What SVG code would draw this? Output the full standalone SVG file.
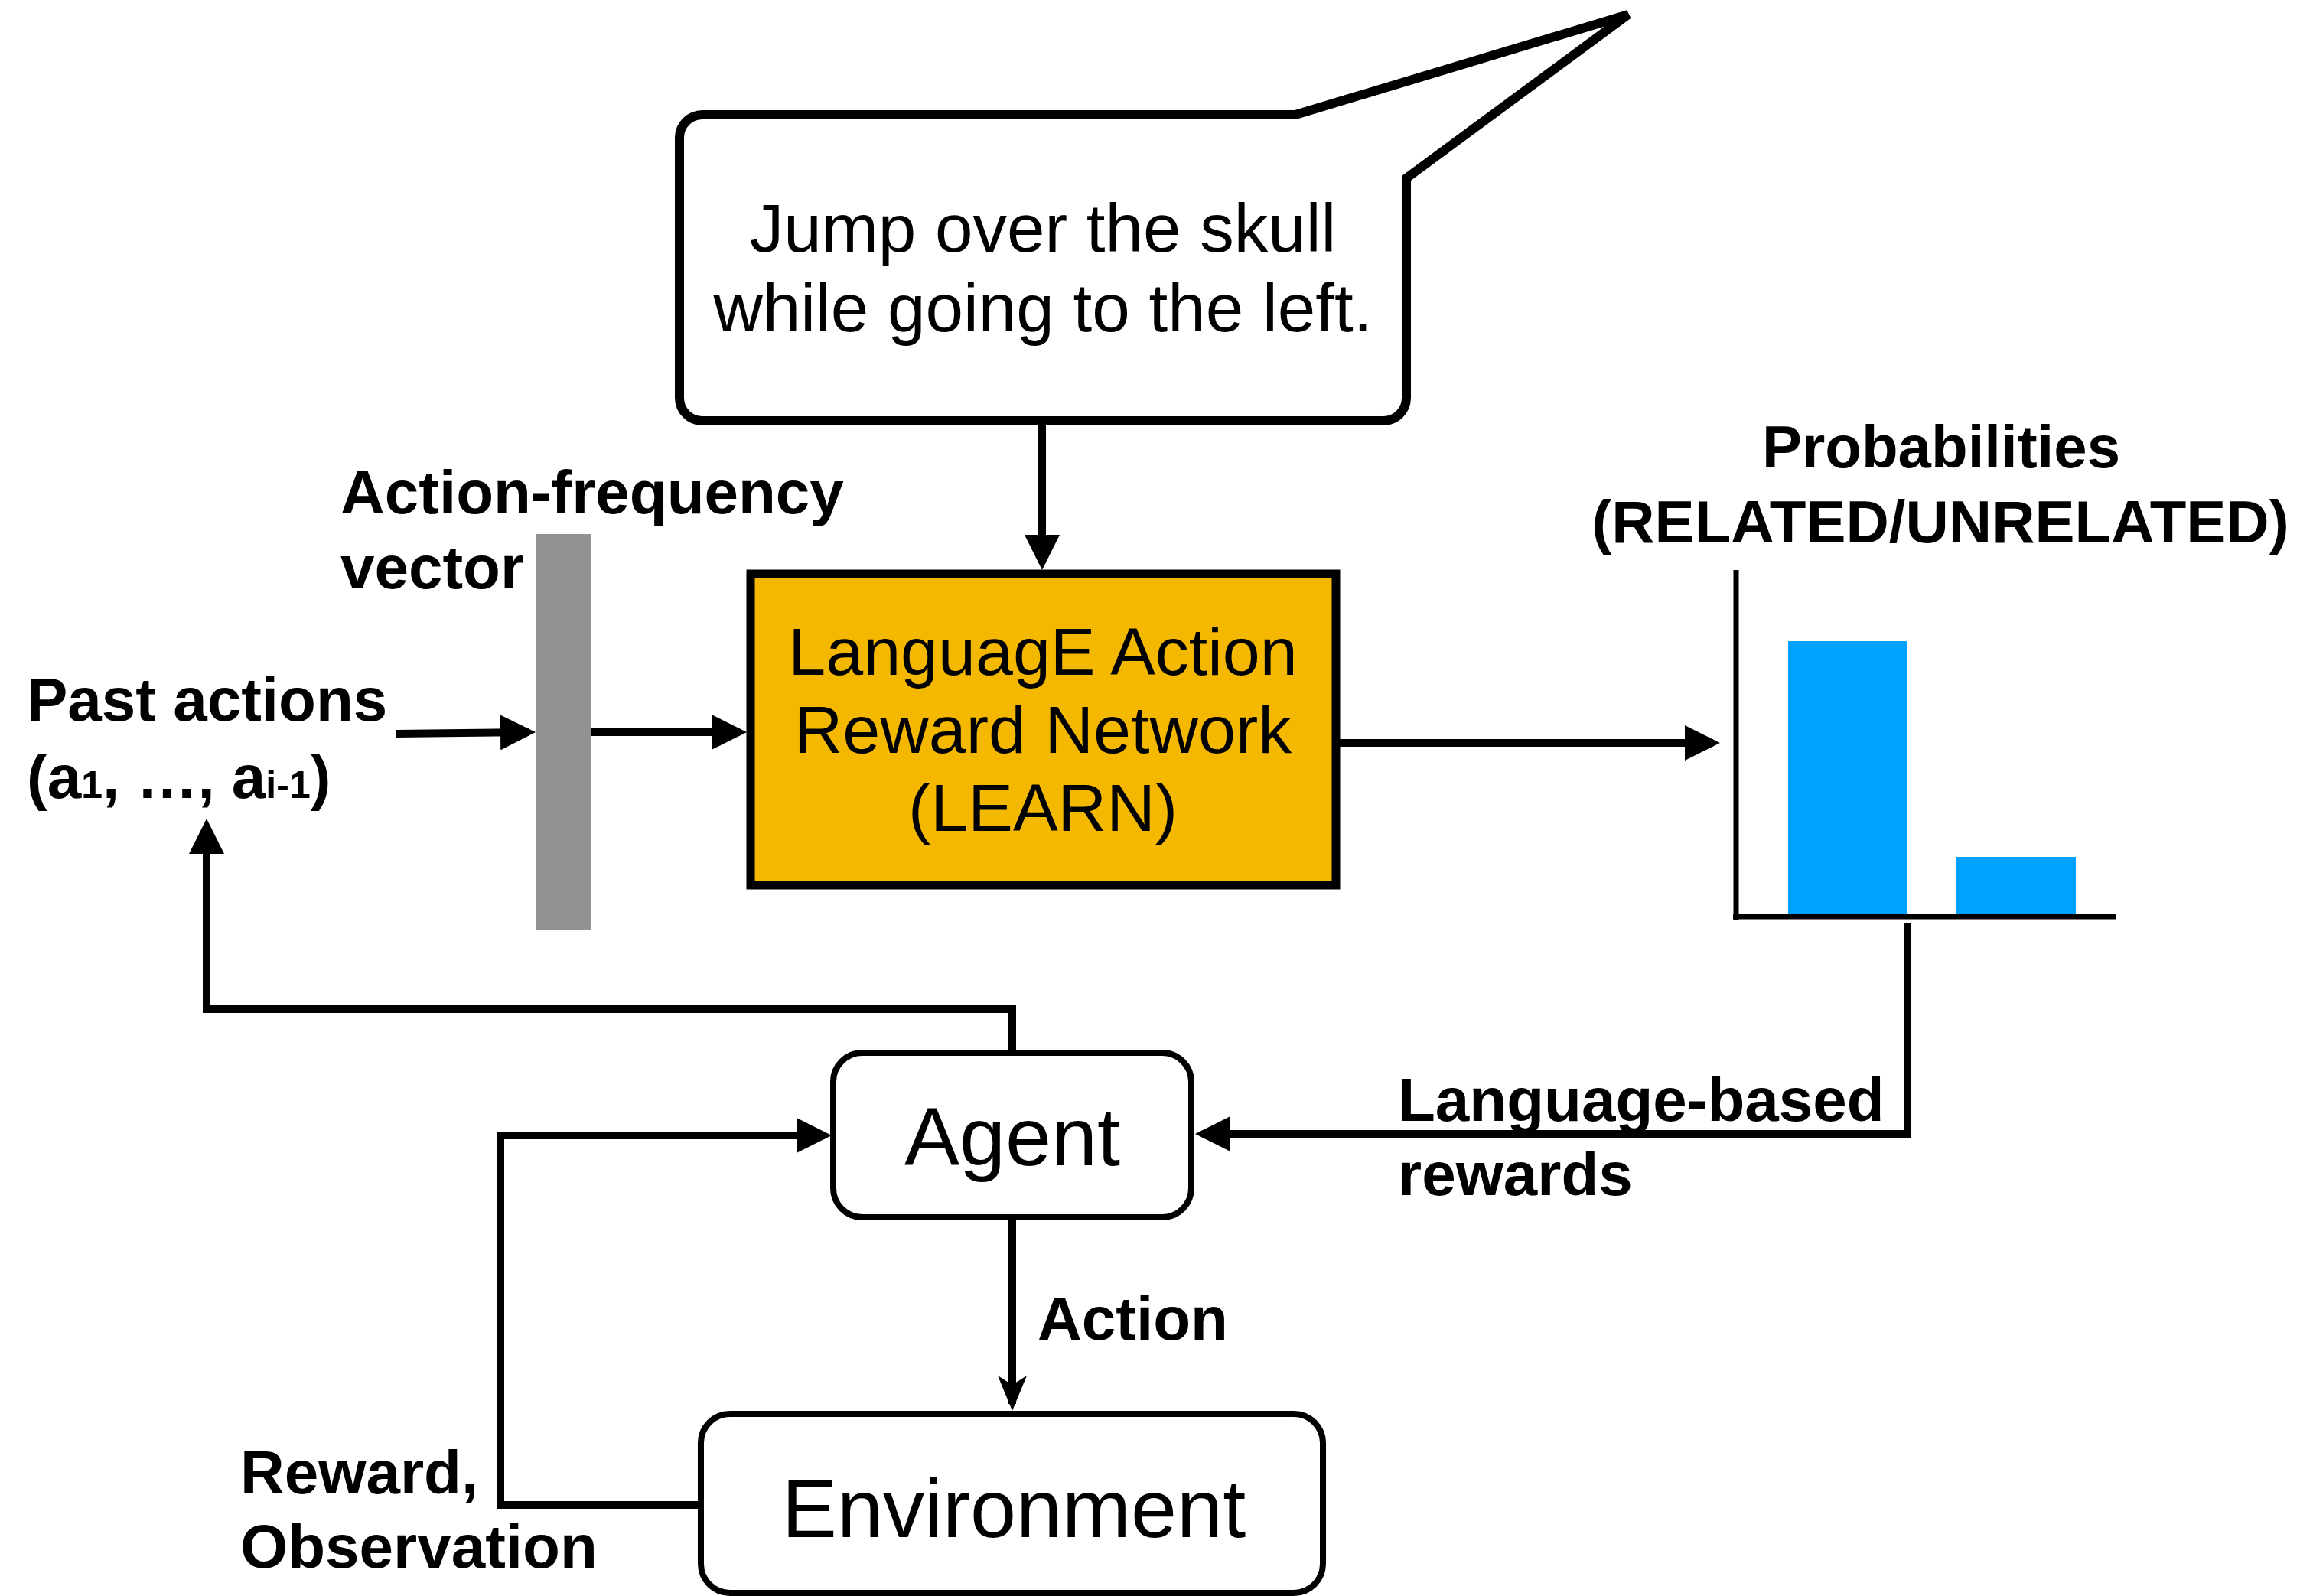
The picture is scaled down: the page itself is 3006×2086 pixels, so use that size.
<svg xmlns="http://www.w3.org/2000/svg" width="3006" height="2086" viewBox="0 0 3006 2086">
<style>
.lbl{font-family:"Liberation Sans",Arial,sans-serif;font-weight:bold;font-size:80px;fill:#000}
.lbl78{font-size:78px}
.txt{font-family:"Liberation Sans",Arial,sans-serif;fill:#000}
.conn{fill:none;stroke:#000;stroke-width:10;stroke-linejoin:miter}
.box{fill:#fff;stroke:#000;stroke-width:8}
</style>
<defs>
<marker id="ah" markerUnits="userSpaceOnUse" markerWidth="46" markerHeight="46" viewBox="0 0 46 46" refX="37" refY="23" orient="auto"><path d="M0,0 L46,23 L0,46 Z" fill="#000"/></marker>
<marker id="ahn" markerUnits="userSpaceOnUse" markerWidth="46" markerHeight="38" viewBox="0 0 46 38" refX="37" refY="19" orient="auto"><path d="M0,0 L46,19 L0,38 L12,19 Z" fill="#000"/></marker>
</defs>
<rect width="3006" height="2086" fill="#fff"/>

<g id="connectors">
<path class="conn" d="M1362,552 V736" marker-end="url(#ah)"/>
<path class="conn" d="M518,959 L691,957" marker-end="url(#ah)"/>
<path class="conn" d="M773,957 H967" marker-end="url(#ah)"/>
<path class="conn" d="M1751,971 H2239" marker-end="url(#ah)"/>
<path class="conn" d="M2493,1206 V1482 H1571" marker-end="url(#ah)"/>
<path class="conn" d="M1323,1376 V1319 H270 V1079" marker-end="url(#ah)"/>
<path class="conn" d="M1323,1593 V1835" marker-end="url(#ahn)"/>
<path class="conn" d="M914,1967 H654 V1484 H1078" marker-end="url(#ah)"/>
</g>

<g id="instruction">
<path d="M918,150 H1693 L2128,19 L1838,233 V520 A30,30 0 0 1 1808,550 H918 A30,30 0 0 1 888,520 V180 A30,30 0 0 1 918,150 Z" fill="#fff" stroke="#000" stroke-width="12" stroke-linejoin="miter"/>
<text class="txt" x="1363" y="329" font-size="89" text-anchor="middle">Jump over the skull</text>
<text class="txt" x="1363" y="433" font-size="89" text-anchor="middle">while going to the left.</text>
</g>

<g id="past-actions">
<text class="lbl" x="35" y="942">Past actions</text>
<text class="lbl" x="35" y="1043">(a<tspan style="font-size:50px">1</tspan>, …, a<tspan style="font-size:50px">i-1</tspan>)</text>
</g>

<g id="action-frequency-vector">
<rect x="700" y="698" width="73" height="518" fill="#929292"/>
<text class="lbl" x="445" y="671">Action-frequency</text>
<text class="lbl" x="445" y="769">vector</text>
</g>

<g id="learn">
<rect x="981" y="750" width="765" height="407" fill="#F5B800" stroke="#000" stroke-width="11"/>
<text class="txt" x="1363" y="882" font-size="88" text-anchor="middle">LanguagE Action</text>
<text class="txt" x="1363" y="984" font-size="88" text-anchor="middle">Reward Network</text>
<text class="txt" x="1363" y="1086" font-size="88" text-anchor="middle">(LEARN)</text>
</g>

<g id="probabilities">
<text class="lbl lbl78" x="2537" y="611" text-anchor="middle">Probabilities</text>
<text class="lbl lbl78" x="2536" y="709" text-anchor="middle">(RELATED/UNRELATED)</text>
<rect x="2337" y="838" width="156" height="358" fill="#00A2FF"/>
<rect x="2557" y="1120" width="156" height="76" fill="#00A2FF"/>
<path d="M2269,745 V1202 M2265,1198 H2765" fill="none" stroke="#000" stroke-width="7"/>
</g>

<g id="agent">
<rect class="box" x="1089" y="1376" width="468" height="215" rx="38"/>
<text class="txt" x="1323" y="1523" font-size="108" text-anchor="middle">Agent</text>
</g>

<g id="environment">
<rect class="box" x="916" y="1848" width="813" height="234" rx="38"/>
<text class="txt" x="1325" y="2009" font-size="108" text-anchor="middle">Environment</text>
</g>

<g id="labels">
<text class="lbl" x="1827" y="1465">Language-based</text>
<text class="lbl" x="1827" y="1562">rewards</text>
<text class="lbl" x="1356" y="1751">Action</text>
<text class="lbl" x="314" y="1952">Reward,</text>
<text class="lbl" x="314" y="2049">Observation</text>
</g>
</svg>
